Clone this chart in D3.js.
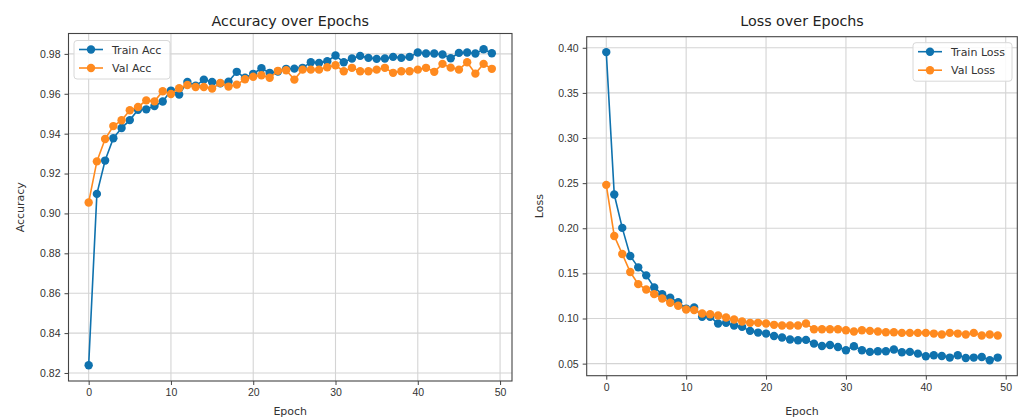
<!DOCTYPE html>
<html>
<head>
<meta charset="utf-8">
<script src="https://cdn.jsdelivr.net/npm/d3@7"></script>
<style>
  body { margin: 0; background: #fff; }
  svg { font-family: "DejaVu Sans", sans-serif; }
</style>
</head>
<body>
<svg id="chart" width="1020" height="417"></svg>
<script>
// epochs 0..49
const epochs = d3.range(50);

const trainAcc = [0.8239, 0.9098, 0.9265, 0.9377, 0.9428, 0.9468, 0.9520, 0.9522, 0.9539, 0.9561,
  0.9616, 0.9596, 0.9659, 0.9640, 0.9671, 0.9659, 0.9652, 0.9661, 0.9710, 0.9680,
  0.9700, 0.9728, 0.9705, 0.9712, 0.9725, 0.9726, 0.9730, 0.9758, 0.9755, 0.9763,
  0.9792, 0.9758, 0.9777, 0.9790, 0.9780, 0.9775, 0.9777, 0.9785, 0.9780, 0.9785,
  0.9807, 0.9802, 0.9802, 0.9797, 0.9778, 0.9805, 0.9807, 0.9802, 0.9823, 0.9803];

const valAcc = [0.9055, 0.9261, 0.9373, 0.9438, 0.9467, 0.9517, 0.9534, 0.9567, 0.9562, 0.9613,
  0.9599, 0.9628, 0.9644, 0.9634, 0.9634, 0.9626, 0.9654, 0.9636, 0.9646, 0.9673,
  0.9685, 0.9693, 0.9680, 0.9715, 0.9718, 0.9671, 0.9721, 0.9721, 0.9721, 0.9733,
  0.9743, 0.9713, 0.9730, 0.9713, 0.9713, 0.9721, 0.9730, 0.9705, 0.9713, 0.9713,
  0.9721, 0.9730, 0.9710, 0.9750, 0.9731, 0.9721, 0.9758, 0.9701, 0.9750, 0.9725];

const trainLoss = [0.3952, 0.2374, 0.2004, 0.1693, 0.1567, 0.1478, 0.1344, 0.1270, 0.1230, 0.1181,
  0.1110, 0.1122, 0.1019, 0.1019, 0.0944, 0.0952, 0.0922, 0.0907, 0.0863, 0.0844,
  0.0833, 0.0807, 0.0789, 0.0767, 0.0759, 0.0763, 0.0722, 0.0696, 0.0707, 0.0685,
  0.0648, 0.0693, 0.0648, 0.0630, 0.0637, 0.0637, 0.0656, 0.0626, 0.0630, 0.0611,
  0.0581, 0.0593, 0.0585, 0.0567, 0.0593, 0.0563, 0.0567, 0.0574, 0.0537, 0.0567];

const valLoss = [0.2481, 0.1915, 0.1715, 0.1515, 0.1381, 0.1322, 0.1270, 0.1222, 0.1174, 0.1141,
  0.1100, 0.1093, 0.1056, 0.1048, 0.1033, 0.1011, 0.0989, 0.0967, 0.0952, 0.0952,
  0.0944, 0.0930, 0.0922, 0.0922, 0.0922, 0.0944, 0.0881, 0.0881, 0.0881, 0.0881,
  0.0870, 0.0856, 0.0870, 0.0863, 0.0856, 0.0848, 0.0848, 0.0841, 0.0841, 0.0841,
  0.0841, 0.0833, 0.0822, 0.0841, 0.0833, 0.0822, 0.0841, 0.0811, 0.0822, 0.0811];

const accTicks = [0.82, 0.84, 0.86, 0.88, 0.90, 0.92, 0.94, 0.96, 0.98];
const lossTicks = [0.05, 0.10, 0.15, 0.20, 0.25, 0.30, 0.35, 0.40];
const epochTicks = [0, 10, 20, 30, 40, 50];

const BLUE = "#0f72ae";
const ORANGE = "#ff8a1f";

const svg = d3.select("#chart");

// matplotlib style 5% margin
function padded(vals) {
  const [lo, hi] = d3.extent(vals);
  const m = (hi - lo) * 0.05;
  return [lo - m, hi + m];
}

function drawPanel(opt) {
  const x = d3.scaleLinear().domain(padded(epochs)).range([opt.left, opt.right]);
  const y = d3.scaleLinear().domain(padded(opt.a.concat(opt.b))).range([opt.bottom, opt.top]);
  const g = svg.append("g");

  // grid
  g.append("g").selectAll("line").data(epochTicks).join("line")
    .attr("x1", d => x(d)).attr("x2", d => x(d))
    .attr("y1", opt.top).attr("y2", opt.bottom)
    .attr("stroke", "#d4d4d4").attr("stroke-width", 1.1);
  g.append("g").selectAll("line").data(opt.ticks).join("line")
    .attr("x1", opt.left).attr("x2", opt.right)
    .attr("y1", d => y(d)).attr("y2", d => y(d))
    .attr("stroke", "#d4d4d4").attr("stroke-width", 1.1);

  // axes
  const xa = g.append("g").attr("transform", `translate(0,${opt.bottom})`)
    .call(d3.axisBottom(x).tickValues(epochTicks).tickSize(4).tickPadding(4).tickFormat(d3.format("d")));
  const ya = g.append("g").attr("transform", `translate(${opt.left},0)`)
    .call(d3.axisLeft(y).tickValues(opt.ticks).tickSize(4).tickPadding(4).tickFormat(d3.format(".2f")));
  [xa, ya].forEach(a => {
    a.select(".domain").remove();
    a.selectAll("line").attr("stroke", "#444");
    a.selectAll("text").attr("fill", "#333").style("font-size", "10.5px");
  });

  // frame
  g.append("rect")
    .attr("x", opt.left).attr("y", opt.top)
    .attr("width", opt.right - opt.left).attr("height", opt.bottom - opt.top)
    .attr("fill", "none").attr("stroke", "#444").attr("stroke-width", 1.1);

  const line = d3.line().x((d, i) => x(i)).y(d => y(d));
  [[opt.a, BLUE], [opt.b, ORANGE]].forEach(([vals, c]) => {
    g.append("path").datum(vals).attr("d", line)
      .attr("fill", "none").attr("stroke", c).attr("stroke-width", 1.6);
    g.append("g").selectAll("circle").data(vals).join("circle")
      .attr("cx", (d, i) => x(i)).attr("cy", d => y(d)).attr("r", 4.2).attr("fill", c);
  });

  // title and labels
  const cx = (opt.left + opt.right) / 2;
  g.append("text").attr("x", cx).attr("y", 26).attr("text-anchor", "middle")
    .style("font-size", "14.3px").attr("fill", "#222").text(opt.title);
  g.append("text").attr("x", cx).attr("y", 415).attr("text-anchor", "middle")
    .style("font-size", "11px").attr("fill", "#333").text("Epoch");
  g.append("text").attr("transform", `translate(${opt.ylabelX},${(opt.top + opt.bottom) / 2}) rotate(-90)`)
    .attr("text-anchor", "middle").style("font-size", "11px").attr("fill", "#333").text(opt.ylabel);

  // legend
  const L = opt.legend;
  g.append("rect").attr("x", L.x).attr("y", L.y).attr("width", L.w).attr("height", L.h)
    .attr("rx", 3).attr("fill", "rgba(255,255,255,0.85)").attr("stroke", "#d8d8d8");
  opt.names.forEach((name, i) => {
    const c = i === 0 ? BLUE : ORANGE;
    const ly = L.y + 9 + i * 18.5;
    g.append("line").attr("x1", L.x + 5).attr("x2", L.x + 29).attr("y1", ly).attr("y2", ly)
      .attr("stroke", c).attr("stroke-width", 1.6);
    g.append("circle").attr("cx", L.x + 17).attr("cy", ly).attr("r", 4.2).attr("fill", c);
    g.append("text").attr("x", L.x + 38).attr("y", ly + 4).style("font-size", "11px")
      .attr("fill", "#333").text(name);
  });
}

drawPanel({
  left: 68.5, right: 512, top: 33.5, bottom: 381,
  a: trainAcc, b: valAcc, ticks: accTicks,
  title: "Accuracy over Epochs", ylabel: "Accuracy", ylabelX: 24,
  names: ["Train Acc", "Val Acc"],
  legend: { x: 74, y: 40.5, w: 96, h: 38.5 }
});

drawPanel({
  left: 586.7, right: 1017.3, top: 36.7, bottom: 375.7,
  a: trainLoss, b: valLoss, ticks: lossTicks,
  title: "Loss over Epochs", ylabel: "Loss", ylabelX: 543,
  names: ["Train Loss", "Val Loss"],
  legend: { x: 913, y: 42.7, w: 99, h: 38.5 }
});
</script>
</body>
</html>
